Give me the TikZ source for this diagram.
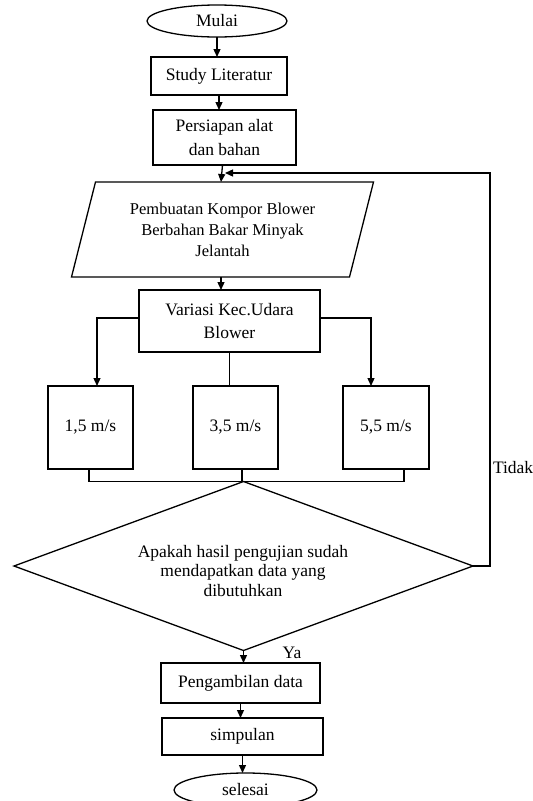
\documentclass[tikz,border=0pt]{standalone}
\usepackage{fontspec}
\setmainfont{Liberation Serif}
\usetikzlibrary{shapes.geometric,arrows.meta,calc}
\begin{document}
\begin{tikzpicture}[x=1pt,y=-1pt,
  every node/.style={inner sep=0pt, outer sep=0pt, align=center},
  box/.style={draw, line width=1.3pt, rectangle},
  term/.style={draw, line width=1.3pt, ellipse},
  txt/.style={font=\fontsize{17.5}{21}\selectfont},
  conn/.style={line width=1.3pt},
  arr/.style={line width=1.3pt, -{Triangle[length=8pt,width=7pt]}}
]
\useasboundingbox (0,0) rectangle (533,801);
% terminals and boxes
\node[term, txt, minimum width=140, minimum height=32] (mulai) at (217,21) {Mulai};
\node[box, txt, minimum width=136, minimum height=38] (study) at (219,76) {Study Literatur};
\node[box, font=\fontsize{17.5}{24}\selectfont, minimum width=143, minimum height=55] (persiapan) at (224.5,137.5) {Persiapan alat\\dan bahan};
% parallelogram
\node[font=\fontsize{16.5}{21}\selectfont, minimum width=278, minimum height=95] (para) at (222.5,229.5) {Pembuatan Kompor Blower\\Berbahan Bakar Minyak\\Jelantah};
\draw[line width=1.3pt] ([xshift=12]para.north west) -- ([xshift=12]para.north east)
  -- ([xshift=-12]para.south east) -- ([xshift=-12]para.south west) -- cycle;
\node[box, font=\fontsize{17.5}{23}\selectfont, minimum width=181, minimum height=62] (variasi) at (229.5,321) {Variasi Kec.Udara\\Blower};
\node[box, txt, minimum width=85, minimum height=83] (v1) at (90.5,427.5) {1,5 m/s};
\node[box, txt, minimum width=85, minimum height=83] (v2) at (235.5,427.5) {3,5 m/s};
\node[box, txt, minimum width=86, minimum height=83] (v3) at (386,427.5) {5,5 m/s};
% decision
\node[draw, diamond, line width=1.3pt, minimum width=459, minimum height=169, aspect=2.7] (dec) at (243.5,566) {};
\node[font=\fontsize{17.5}{19.5}\selectfont] (dectext) at (243,571) {Apakah hasil pengujian sudah\\mendapatkan data yang\\dibutuhkan};
\node[box, txt, minimum width=159, minimum height=40] (peng) at (240.5,683) {Pengambilan data};
\node[box, txt, minimum width=161, minimum height=37] (simp) at (242.5,736.5) {simpulan};
\node[term, txt, minimum width=143, minimum height=34] (selesai) at (245.5,790) {selesai};
% labels
\node[txt, anchor=west] (tidak) at (493,468) {Tidak};
\node[txt] (ya) at (292,653) {Ya};
\coordinate (loopc) at (490,173);
% connectors
\draw[arr] (mulai.south) -- (mulai.south |- study.north);
\draw[arr] (study.south) -- (study.south |- persiapan.north);
\draw[arr] (para.north |- persiapan.south) -- ([xshift=-1.5]para.north);
\draw[arr] ([xshift=-1.5]para.south) -- ([xshift=-1.5]para.south |- variasi.north);
\draw[arr] ([yshift=3]variasi.west) -| ([xshift=6.5]v1.north);
\draw[arr] ([yshift=3]variasi.east) -| ([xshift=-15]v3.north);
\draw[conn] (variasi.south) -- (variasi.south |- v2.north);
\draw[conn] ([xshift=-1.5]v1.south) |- (dec.north) -| ([xshift=18]v3.south);
\draw[conn] ([xshift=6.5]v2.south) -- ([xshift=6.5]v2.south |- dec.north);
\draw[arr] (dec.east) -| (loopc) -- ([xshift=2.5]para.north |- loopc);
\draw[arr] (dec.south) -- (dec.south |- peng.north);
\draw[arr] (peng.south) -- (peng.south |- simp.north);
\draw[arr] (simp.south) -- (simp.south |- selesai.north);
\end{tikzpicture}
\end{document}
